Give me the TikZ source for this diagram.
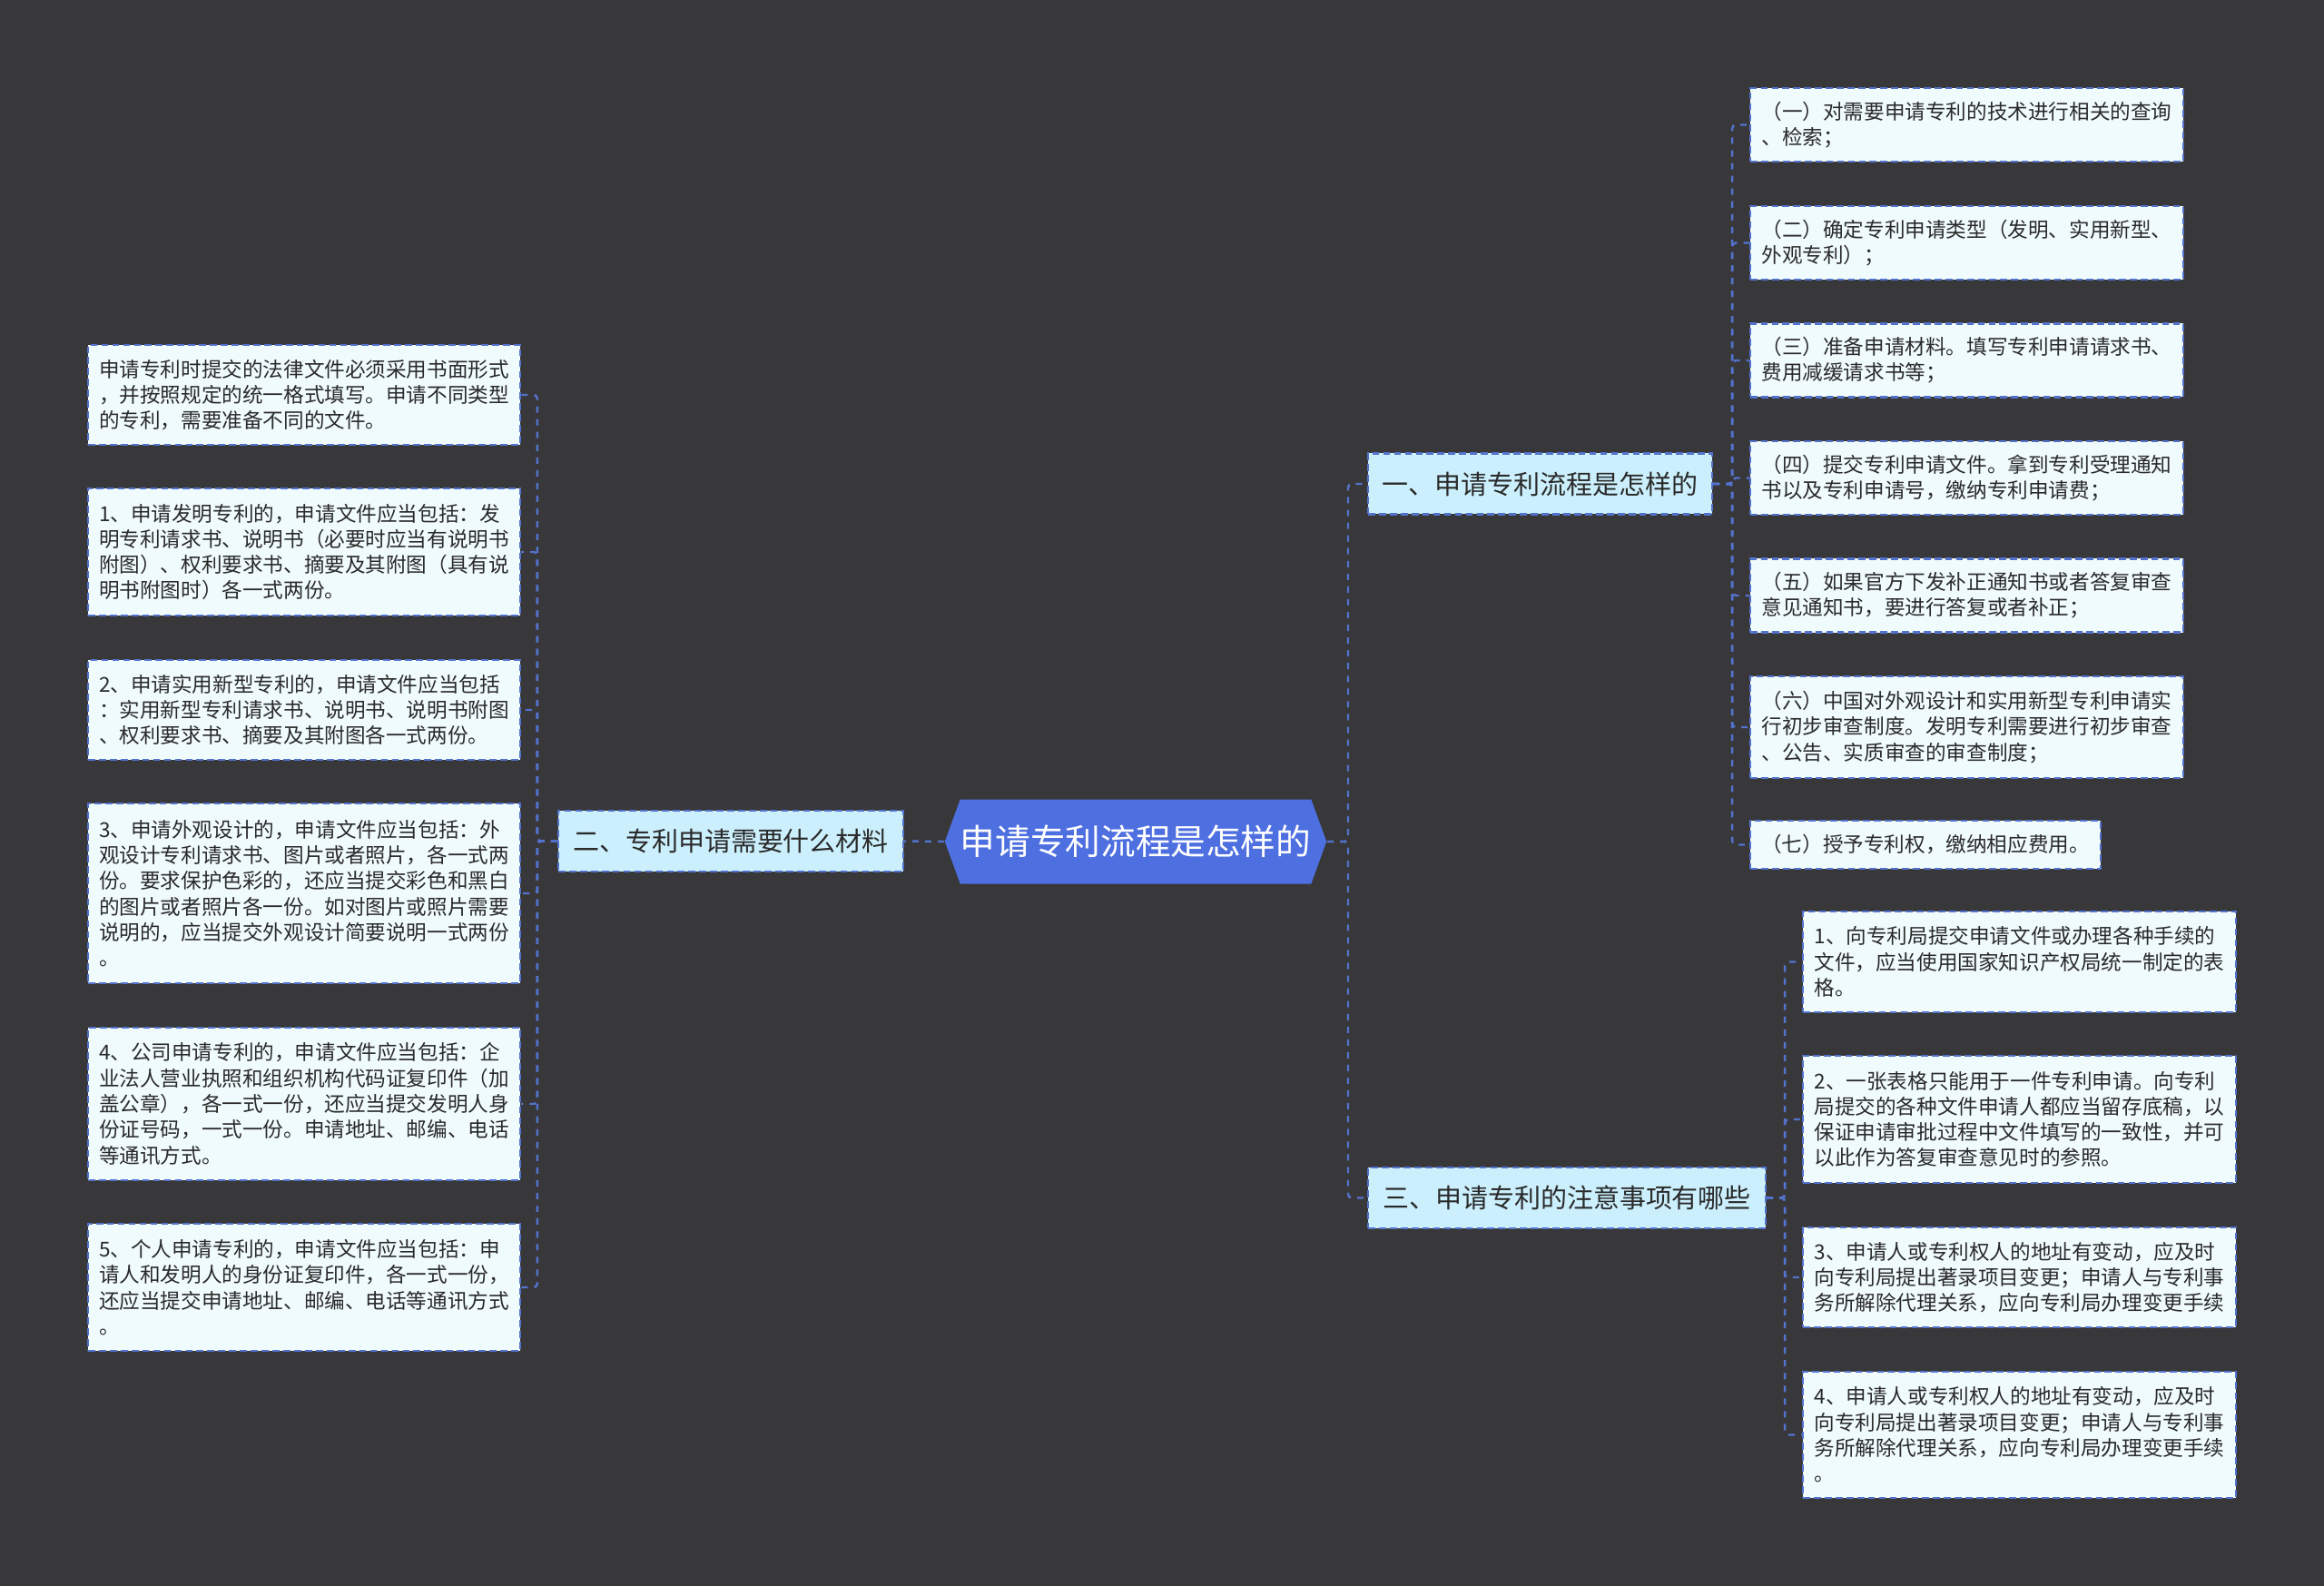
\documentclass[tikz,border=0pt]{standalone}
\usepackage{fontspec}
\newfontfamily\cjk{Noto Sans CJK SC}
\usetikzlibrary{shapes.symbols}
\definecolor{bgcol}{HTML}{38373A}
\definecolor{leafcol}{HTML}{F0FBFE}
\definecolor{seccol}{HTML}{CBEFFC}
\definecolor{linecol}{HTML}{5372CC}
\definecolor{rootcol}{HTML}{4E6FE0}
\definecolor{txtcol}{HTML}{2A2A2A}
\begin{document}
\begin{tikzpicture}[
                        x=1cm, y=-1cm,
                        leaf/.style={rectangle, draw=linecol, fill=leafcol, line width=0.65pt,
                          dash pattern=on 2.2pt off 1.2pt, text=txtcol, align=left,
                          inner xsep=0.12cm, font=\cjk\fontsize{6.43pt}{8.05pt}\selectfont},
                        sec/.style={rectangle, draw=linecol, fill=seccol, line width=0.65pt,
                          dash pattern=on 2.2pt off 1.2pt, text=txtcol,
                          minimum height=0.67cm, font=\cjk\fontsize{8.25pt}{10pt}\selectfont},
                        root/.style={signal, signal to=west and east, signal pointer angle=140,
                          fill=rootcol, text=white, inner xsep=0pt, minimum width=4.1cm,
                          minimum height=0.93cm, font=\cjk\fontsize{11pt}{13pt}\selectfont},
                        link/.style={draw=linecol, line width=0.7pt, dash pattern=on 2pt off 2pt,
                          rounded corners=0.04cm}
                    ]
                    \fill[bgcol] (0,0) rectangle (25.6,17.47);
                    % Blocks
                    \node [root] (root) at (12.51,9.27) {申请专利流程是怎样的};
                    \node [sec, minimum width=3.80cm] (sec2) at (8.05,9.265) {二、专利申请需要什么材料};
                    \node [sec, minimum width=3.79cm] (sec1) at (16.965,5.33) {一、申请专利流程是怎样的};
                    \node [sec, minimum width=4.38cm] (sec3) at (17.26,13.195) {三、申请专利的注意事项有哪些};

                    \node [leaf, minimum width=4.76cm, minimum height=1.10cm] (l0) at (3.35,4.35)
                      {申请专利时提交的法律文件必须采用书面形式\\，并按照规定的统一格式填写。申请不同类型\\的专利，需要准备不同的文件。};
                    \node [leaf, minimum width=4.76cm, minimum height=1.40cm] (l1) at (3.35,6.08)
                      {1、申请发明专利的，申请文件应当包括：发\\明专利请求书、说明书（必要时应当有说明书\\附图）、权利要求书、摘要及其附图（具有说\\明书附图时）各一式两份。};
                    \node [leaf, minimum width=4.76cm, minimum height=1.10cm] (l2) at (3.35,7.82)
                      {2、申请实用新型专利的，申请文件应当包括\\：实用新型专利请求书、说明书、说明书附图\\、权利要求书、摘要及其附图各一式两份。};
                    \node [leaf, minimum width=4.76cm, minimum height=1.98cm] (l3) at (3.35,9.84)
                      {3、申请外观设计的，申请文件应当包括：外\\观设计专利请求书、图片或者照片，各一式两\\份。要求保护色彩的，还应当提交彩色和黑白\\的图片或者照片各一份。如对图片或照片需要\\说明的，应当提交外观设计简要说明一式两份\\。};
                    \node [leaf, minimum width=4.76cm, minimum height=1.68cm] (l4) at (3.35,12.16)
                      {4、公司申请专利的，申请文件应当包括：企\\业法人营业执照和组织机构代码证复印件（加\\盖公章），各一式一份，还应当提交发明人身\\份证号码，一式一份。申请地址、邮编、电话\\等通讯方式。};
                    \node [leaf, minimum width=4.76cm, minimum height=1.40cm] (l5) at (3.35,14.18)
                      {5、个人申请专利的，申请文件应当包括：申\\请人和发明人的身份证复印件，各一式一份，\\还应当提交申请地址、邮编、电话等通讯方式\\。};

                    \node [leaf, minimum width=4.77cm, minimum height=0.81cm] (r1) at (21.665,1.375)
                      {（一）对需要申请专利的技术进行相关的查询\\、检索；};
                    \node [leaf, minimum width=4.77cm, minimum height=0.81cm] (r2) at (21.665,2.675)
                      {（二）确定专利申请类型（发明、实用新型、\\外观专利）；};
                    \node [leaf, minimum width=4.77cm, minimum height=0.81cm] (r3) at (21.665,3.97)
                      {（三）准备申请材料。填写专利申请请求书、\\费用减缓请求书等；};
                    \node [leaf, minimum width=4.77cm, minimum height=0.81cm] (r4) at (21.665,5.265)
                      {（四）提交专利申请文件。拿到专利受理通知\\书以及专利申请号，缴纳专利申请费；};
                    \node [leaf, minimum width=4.77cm, minimum height=0.81cm] (r5) at (21.665,6.56)
                      {（五）如果官方下发补正通知书或者答复审查\\意见通知书，要进行答复或者补正；};
                    \node [leaf, minimum width=4.77cm, minimum height=1.12cm] (r6) at (21.665,8.01)
                      {（六）中国对外观设计和实用新型专利申请实\\行初步审查制度。发明专利需要进行初步审查\\、公告、实质审查的审查制度；};
                    \node [leaf, minimum width=3.86cm, minimum height=0.53cm] (r7) at (21.21,9.305)
                      {（七）授予专利权，缴纳相应费用。};

                    \node [leaf, minimum width=4.77cm, minimum height=1.11cm] (s1) at (22.245,10.595)
                      {1、向专利局提交申请文件或办理各种手续的\\文件，应当使用国家知识产权局统一制定的表\\格。};
                    \node [leaf, minimum width=4.77cm, minimum height=1.40cm] (s2) at (22.245,12.33)
                      {2、一张表格只能用于一件专利申请。向专利\\局提交的各种文件申请人都应当留存底稿，以\\保证申请审批过程中文件填写的一致性，并可\\以此作为答复审查意见时的参照。};
                    \node [leaf, minimum width=4.77cm, minimum height=1.10cm] (s3) at (22.245,14.07)
                      {3、申请人或专利权人的地址有变动，应及时\\向专利局提出著录项目变更；申请人与专利事\\务所解除代理关系，应向专利局办理变更手续};
                    \node [leaf, minimum width=4.77cm, minimum height=1.39cm] (s4) at (22.245,15.805)
                      {4、申请人或专利权人的地址有变动，应及时\\向专利局提出著录项目变更；申请人与专利事\\务所解除代理关系，应向专利局办理变更手续\\。};

                    % Connections
                    \draw [link] (root.west) -- (sec2.east);
                    \draw [link] (root.east) -- ++(0.23,0) |- (sec1.west);
                    \draw [link] (root.east) -- ++(0.23,0) |- (sec3.west);
                    \foreach \n in {l0,l1,l2,l3,l4,l5}
                      \draw [link] (sec2.west) -- ++(-0.22,0) |- (\n.east);
                    \foreach \n in {r1,r2,r3,r4,r5,r6,r7}
                      \draw [link] (sec1.east) -- ++(0.21,0) |- (\n.west);
                    \foreach \n in {s1,s2,s3,s4}
                      \draw [link] (sec3.east) -- ++(0.20,0) |- (\n.west);
                \end{tikzpicture}
\end{document}
